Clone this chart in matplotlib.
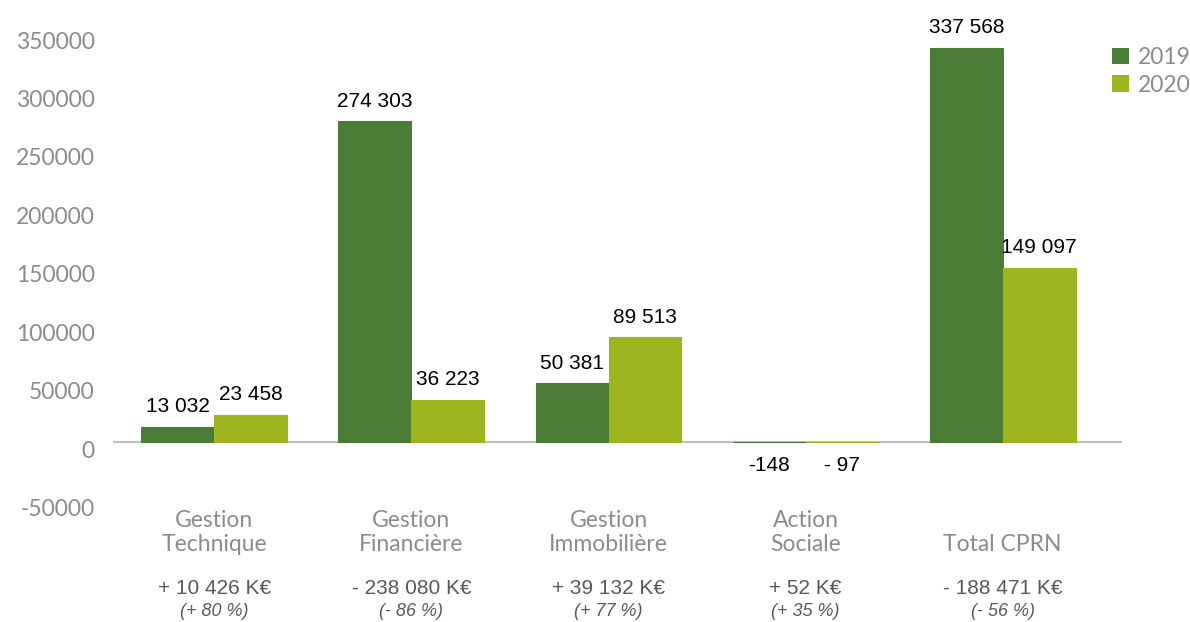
import matplotlib
matplotlib.use("Agg")
import matplotlib.pyplot as plt
from matplotlib.patches import Patch
from matplotlib.transforms import ScaledTranslation, blended_transform_factory

# ---- data ----
categories = ["Gestion\nTechnique", "Gestion\nFinancière", "Gestion\nImmobilière",
              "Action\nSociale", "Total CPRN"]
values_2019 = [13032, 274303, 50381, -148, 337568]
values_2020 = [23458, 36223, 89513, -97, 149097]
labels_2019 = ["13 032", "274 303", "50 381", "-148", "337 568"]
labels_2020 = ["23 458", "36 223", "89 513", "- 97", "149 097"]
diff_labels = ["+ 10 426 K€", "- 238 080 K€", "+ 39 132 K€", "+ 52 K€", "- 188 471 K€"]
pct_labels = ["(+ 80 %)", "(- 86 %)", "(+ 77 %)", "(+ 35 %)", "(- 56 %)"]
series_names = ["2019", "2020"]
yticks = [-50000, 0, 50000, 100000, 150000, 200000, 250000, 300000, 350000]

# ---- style ----
C2019 = "#4A7C35"
C2020 = "#9FB520"
GRAY = "#8C8C8C"
DARK = "#595959"
LIGHT_FONT = ["Lato", "DejaVu Sans"]
ARIAL = ["Liberation Sans", "DejaVu Sans"]

W, H = 1190, 622
fig = plt.figure(figsize=(W / 100, H / 100), dpi=100)
ax_left, ax_right = 113, 1122
ax_top, ax_bottom = 19.0, 500.45
ax = fig.add_axes([ax_left / W, 1 - ax_bottom / H, (ax_right - ax_left) / W,
                   (ax_bottom - ax_top) / H])

x = list(range(len(categories)))
bw = 0.37
b1 = ax.bar([i - bw / 2 for i in x], values_2019, width=bw, color=C2019,
            edgecolor=C2019, linewidth=0.8, zorder=3)
b2 = ax.bar([i + bw / 2 for i in x], values_2020, width=bw, color=C2020,
            edgecolor=C2020, linewidth=0.8, zorder=3)

ax.set_xlim(-0.514, 4.605)
ax.set_ylim(-50000, 362000)
ax.axhline(0, color="#BFBFBF", lw=1.5, zorder=2)

for s in ax.spines.values():
    s.set_visible(False)
ax.set_xticks([])
ax.set_yticks(yticks)
ax.set_yticklabels([str(v) for v in yticks])
ax.tick_params(axis="y", length=0, pad=13, labelsize=16.5, labelcolor=GRAY)
off = ScaledTranslation(0, -7 / 100, fig.dpi_scale_trans)
for lbl in ax.get_yticklabels():
    lbl.set_fontfamily(LIGHT_FONT)
    lbl.set_transform(lbl.get_transform() + off)

# value labels
for bars, labs in ((b1, labels_2019), (b2, labels_2020)):
    for rect, lab in zip(bars, labs):
        v = rect.get_height() if rect.get_y() >= 0 else rect.get_y()
        cx = rect.get_x() + rect.get_width() / 2
        if v >= 0:
            ax.annotate(lab, (cx, v), xytext=(0, 10.5), textcoords="offset points",
                        ha="center", va="baseline", fontsize=15, family=ARIAL, color="black")
        else:
            ax.annotate(lab, (cx, v), xytext=(0, -10), textcoords="offset points",
                        ha="center", va="top", fontsize=15, family=ARIAL, color="black")

# category labels
tr = blended_transform_factory(ax.transData, fig.transFigure)
for i, (cat, d, p) in enumerate(zip(categories, diff_labels, pct_labels)):
    ax.text(i, 1 - 555 / H, cat, transform=tr, ha="center", va="bottom",
            fontsize=16.5, family=LIGHT_FONT, color=GRAY,
            linespacing=1.15, clip_on=False)
    ax.text(i, 1 - 589 / H, d, transform=tr, ha="center", va="center",
            fontsize=15, family=ARIAL, color=DARK, clip_on=False)
    ax.text(i, 1 - 612 / H, p, transform=tr, ha="center", va="center",
            fontsize=13, family=ARIAL, style="italic", color=DARK, clip_on=False)

# legend
handles = [Patch(facecolor=C2019, edgecolor="none"), Patch(facecolor=C2020, edgecolor="none")]
fig.legend(handles, series_names, loc="upper left", bbox_to_anchor=(1112 / W, 1 - 47 / H),
           frameon=False, borderpad=0, borderaxespad=0, handlelength=0.75, handleheight=0.75,
           handletextpad=0.4, labelspacing=0.3,
           prop={"family": LIGHT_FONT, "size": 16.5}, labelcolor=GRAY)

fig.savefig("out.png", dpi=100)
